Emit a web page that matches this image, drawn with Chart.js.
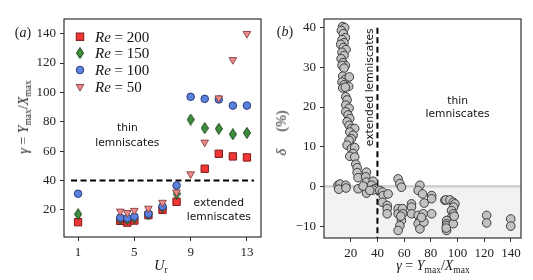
<!DOCTYPE html>
<html>
<head>
<meta charset="utf-8">
<script src="https://cdn.jsdelivr.net/npm/chart.js@4.4.0/dist/chart.umd.min.js"></script>
<style>
  html, body { margin: 0; padding: 0; background: #fff; }
  #wrap { position: relative; width: 533px; height: 280px; overflow: hidden; }
  canvas { position: absolute; top: 0; }
  .lbl { position: absolute; font-family: "Liberation Serif", serif; font-size: 14px; color: #222; white-space: nowrap; line-height: 1; }
  .lbl sub { font-size: 9.5px; line-height: 0; vertical-align: -3px; }
  .rot { transform: translate(-50%, -50%) rotate(-90deg); }
  .ctr { transform: translate(-50%, -50%); }
</style>
</head>
<body>
<div id="wrap">
  <canvas id="leftChart" width="270" height="280" style="left:0"></canvas>
  <canvas id="rightChart" width="263" height="280" style="left:270px"></canvas>
  <div class="lbl ctr" style="left:23px;top:33px">(<i>a</i>)</div>
  <div class="lbl ctr" style="left:285px;top:32px">(<i>b</i>)</div>
  <div class="lbl rot" style="left:24px;top:117px"><i>γ</i> = <i>Y</i><sub>max</sub>/<i>X</i><sub>max</sub></div>
  <div class="lbl ctr" style="left:161px;top:266px"><i>U</i><sub>r</sub></div>
  <div class="lbl ctr" style="left:433px;top:266px"><i>γ</i> = <i>Y</i><sub>max</sub>/<i>X</i><sub>max</sub></div>
  <div class="lbl rot" style="left:282px;top:133px"><i>δ</i>&emsp;&nbsp;(%)</div>
</div>
<script>
// (a) gamma against reduced velocity, one array per Reynolds number
const urValues = [1, 4, 4.5, 5, 6, 7, 8, 9, 10, 11, 12, 13];
const gammaRe200 = [11.6, 12.5, 11.3, 12.7, 16.4, 20, 25.5, null, 48, 58.2, 56.4, 55.7];
const gammaRe150 = [17, 14, 13.5, 14.5, 17, 22, 31, 81.5, 75.7, 75.2, 71.5, 72.4];
const gammaRe100 = [31, 14.7, 14.3, 15.4, 17.3, 22.3, 36.6, 97, 95.6, 95.2, 91, 91];
const gammaRe50 = [null, 19, 18, 19.5, 21, 25, 32, 44.4, 66, 96.1, 122.2, 140];
const urTicks = [1, 5, 9, 13];
const gammaTicks = [20, 40, 60, 80, 100, 120, 140];

// (b) delta against gamma
const gammaRatio = [
  14, 15.5, 13, 14.5, 16, 13.5, 15, 12.5, 14.5, 16.5, 13.5, 15, 12.8, 14.2, 16, 13.5, 15, 14, 16, 19, 13.5, 15, 18.5, 14, 16,
  16.3, 17.3, 16.3, 18.8, 16.3, 18, 19.3, 17.3, 18.8, 20.5, 23, 19.3, 21.8, 20.5, 18.8, 17.3, 20.5, 23, 21.8, 19.3, 23, 23.8, 24.8, 24.8, 25.5, 25.5,
  10.5, 12, 11, 16.3, 16.5,
  31.8, 31.3, 31.8, 30.5, 31.8, 36.8, 35.5, 38, 36.8, 29.3, 34.3,
  41.8, 43.8, 44.3, 48, 43.8, 47.3, 47.3, 47.3,
  55.5, 56.8, 58, 55.5, 55.5, 58.8, 58.8, 58, 56.8, 55.5, 57.5,
  65.5, 65.5, 65.5,
  71.8, 70.5, 73.8, 75, 80.6, 80.6, 70.5, 74.3, 71.8, 70.5, 71.8, 74.8, 80.6, 73,
  90.5, 91.3, 94.3, 96.8, 98, 97, 95.5, 96.8, 95.5, 94.3, 91.8, 91.8, 91.8, 91.8, 96.8, 97.5, 91.5,
  121.8, 121.8, 139.8, 139.8
];
const deltaPct = [
  40.3, 40, 39.3, 38.5, 37.5, 37, 36.2, 35.8, 35, 34.5, 33.8, 33, 32.2, 31.2, 30.5, 30.5, 29.8, 27.8, 27, 27.6, 26.3, 25.6, 25.2, 24.8, 25,
  22.6, 21.8, 20.5, 19.7, 18.8, 18, 17.1, 16.3, 15.4, 14.6, 14.6, 13.7, 12.9, 12, 11.6, 10.4, 9.5, 9.8, 8.3, 7.6, 7.4, 5.6, 4.7, 3.5, 2.2, -0.6,
  0.3, 0.6, -0.7, 0.3, -0.4,
  3.6, 2.4, 1.1, -0.2, -1.7, 1.3, 0.3, -0.6, -0.9, 0.1, -1,
  -1, -1.4, -2.3, -1.9, -4, -4.8, -5.6, -6.9,
  1.9, 0.7, -0.2, -5.6, -6.9, -5.6, -6.9, -8.6, -9.9, -11.1, -7.5,
  -4.4, -5.2, -6.9,
  0.3, -1, -1.9, -4.2, -2.3, -3.1, -7.3, -6.9, -8.6, -9.4, -10.7, -9, -6.9, -7.8,
  -3.5, -3.4, -3.4, -4, -4.4, -5.2, -6.1, -6.9, -7.8, -8.6, -8.6, -9.4, -9.9, -11.1, -9.4, -7.5, -10.5,
  -7.3, -9.2, -8.2, -10
];
const deltaTicks = [-10, 0, 10, 20, 30, 40];
const ratioTicks = [20, 40, 60, 80, 100, 120, 140];

const serif = "'Liberation Serif', serif";
const sans = "'DejaVu Sans', sans-serif";
const ink = "#333";

function thinDiamond(w, h, fill, edge) {
  const c = document.createElement("canvas");
  c.width = w; c.height = h;
  const g = c.getContext("2d");
  g.beginPath();
  g.moveTo(w / 2, 0.5); g.lineTo(w - 0.5, h / 2); g.lineTo(w / 2, h - 0.5); g.lineTo(0.5, h / 2);
  g.closePath();
  g.fillStyle = fill; g.fill();
  g.strokeStyle = edge; g.lineWidth = 1; g.stroke();
  return c;
}
const diamondImg = thinDiamond(8, 12, "#3c8d3c", "#1d461d");

function pts(ys) {
  return urValues.map((x, i) => ({ x: x, y: ys[i] })).filter(p => p.y !== null);
}

function axis(min, max, tickList, fit) {
  return {
    type: "linear", min: min, max: max,
    afterBuildTicks: s => { s.ticks = tickList.map(v => ({ value: v })); },
    afterFit: fit,
    grid: { drawOnChartArea: false, drawTicks: true, tickLength: 4, color: ink },
    border: { display: false },
    ticks: {
      padding: 4, color: "#222", font: { family: serif, size: 13 },
      callback: v => String(v).replace("-", "\u2212")
    }
  };
}

function frame(chart) {
  const a = chart.chartArea, ctx = chart.ctx;
  ctx.save();
  ctx.strokeStyle = ink; ctx.lineWidth = 1.2;
  ctx.strokeRect(a.left, a.top, a.right - a.left, a.bottom - a.top);
  ctx.restore();
}

function label(ctx, text, x, y) {
  ctx.fillText(text, x, y);
}

// left panel
new Chart(document.getElementById("leftChart"), {
  type: "scatter",
  data: {
    datasets: [
      { label: "Re = 200", data: pts(gammaRe200), order: 4, pointStyle: "rect", pointRadius: 5.2,
        backgroundColor: "#f23535", borderColor: "#7d1b1b", borderWidth: 1 },
      { label: "Re = 150", data: pts(gammaRe150), order: 3, pointStyle: diamondImg, pointRadius: 5 },
      { label: "Re = 100", data: pts(gammaRe100), order: 2, pointStyle: "circle", pointRadius: 3.8,
        backgroundColor: "#5a80e0", borderColor: "#2a3d78", borderWidth: 1 },
      { label: "Re = 50", data: pts(gammaRe50), order: 1, pointStyle: "triangle", pointRotation: 180, pointRadius: 4.4,
        backgroundColor: "#f08a8a", borderColor: "#8c4a4a", borderWidth: 1 }
    ]
  },
  options: {
    responsive: false, animation: false,
    layout: { padding: { top: 19, right: 9, left: 0, bottom: 0 } },
    plugins: { legend: { display: false }, tooltip: { enabled: false } },
    scales: {
      x: axis(0, 14, urTicks, s => { s.height = 43; }),
      y: axis(1.5, 150, gammaTicks, s => { s.width = 64; })
    }
  },
  plugins: [{
    id: "leftDecor",
    beforeDatasetsDraw(chart) {
      const ctx = chart.ctx, xs = chart.scales.x, ys = chart.scales.y;
      const y40 = ys.getPixelForValue(40);
      ctx.save();
      ctx.strokeStyle = "#000"; ctx.lineWidth = 2; ctx.setLineDash([6, 3.5]);
      ctx.beginPath();
      ctx.moveTo(xs.getPixelForValue(0.5), y40);
      ctx.lineTo(xs.getPixelForValue(13.5), y40);
      ctx.stroke();
      ctx.restore();
    },
    afterDraw(chart) {
      const ctx = chart.ctx, xs = chart.scales.x, ys = chart.scales.y;
      frame(chart);
      ctx.save();
      ctx.fillStyle = "#111"; ctx.textAlign = "center"; ctx.textBaseline = "alphabetic";
      ctx.font = "10.7px " + sans;
      label(ctx, "thin", xs.getPixelForValue(4.5), ys.getPixelForValue(73.4));
      label(ctx, "lemniscates", xs.getPixelForValue(4.5), ys.getPixelForValue(63.4));
      label(ctx, "extended", xs.getPixelForValue(11), ys.getPixelForValue(22.9));
      label(ctx, "lemniscates", xs.getPixelForValue(11), ys.getPixelForValue(13.2));
      // legend
      const rows = [36.7, 53, 70, 86.7], mx = 80, tx = 95;
      const ds = chart.data.datasets;
      ctx.textAlign = "left"; ctx.textBaseline = "middle";
      rows.forEach((ry, i) => {
        const d = ds[i];
        ctx.save();
        ctx.fillStyle = d.backgroundColor || "#000"; ctx.strokeStyle = d.borderColor || "#000"; ctx.lineWidth = 1;
        if (i === 0) { ctx.fillRect(mx - 3.7, ry - 3.7, 7.4, 7.4); ctx.strokeRect(mx - 3.7, ry - 3.7, 7.4, 7.4); }
        if (i === 1) { ctx.drawImage(diamondImg, mx - 4, ry - 6); }
        if (i === 2) { ctx.beginPath(); ctx.arc(mx, ry, 3.8, 0, Math.PI * 2); ctx.fill(); ctx.stroke(); }
        if (i === 3) {
          ctx.beginPath(); ctx.moveTo(mx - 3.8, ry - 2.2); ctx.lineTo(mx + 3.8, ry - 2.2); ctx.lineTo(mx, ry + 4.4);
          ctx.closePath(); ctx.fill(); ctx.stroke();
        }
        ctx.restore();
        const parts = d.label.split(" = ");
        ctx.fillStyle = "#111";
        ctx.font = "italic 15px " + serif;
        ctx.fillText(parts[0], tx, ry + 1);
        const w = ctx.measureText(parts[0]).width;
        ctx.font = "15px " + serif;
        ctx.fillText(" = " + parts[1], tx + w, ry + 1);
      });
      ctx.restore();
    }
  }]
});

// right panel
new Chart(document.getElementById("rightChart"), {
  type: "scatter",
  data: {
    datasets: [{
      label: "delta",
      data: gammaRatio.map((g, i) => ({ x: g, y: deltaPct[i] })),
      pointStyle: "circle", pointRadius: 4.3,
      backgroundColor: "#c2c2c2", borderColor: "#3c3c3c", borderWidth: 1
    }]
  },
  options: {
    responsive: false, animation: false,
    layout: { padding: { top: 19, right: 12, left: 0, bottom: 0 } },
    plugins: { legend: { display: false }, tooltip: { enabled: false } },
    scales: {
      x: axis(0, 147.5, ratioTicks, s => { s.height = 42; }),
      y: axis(-13, 42.2, deltaTicks, s => { s.width = 54; })
    }
  },
  plugins: [{
    id: "rightDecor",
    beforeDatasetsDraw(chart) {
      const ctx = chart.ctx, a = chart.chartArea, xs = chart.scales.x, ys = chart.scales.y;
      const y0 = ys.getPixelForValue(0), x40 = xs.getPixelForValue(40);
      ctx.save();
      ctx.fillStyle = "#f2f2f2";
      ctx.fillRect(a.left, y0, a.right - a.left, a.bottom - y0);
      ctx.strokeStyle = "#d2d2d2"; ctx.lineWidth = 2.6;
      ctx.beginPath(); ctx.moveTo(a.left, y0); ctx.lineTo(a.right, y0); ctx.stroke();
      ctx.strokeStyle = "#000"; ctx.lineWidth = 2; ctx.setLineDash([6, 3.5]);
      ctx.beginPath(); ctx.moveTo(x40, ys.getPixelForValue(40)); ctx.lineTo(x40, a.bottom); ctx.stroke();
      ctx.restore();
    },
    afterDraw(chart) {
      const ctx = chart.ctx, xs = chart.scales.x, ys = chart.scales.y;
      frame(chart);
      ctx.save();
      ctx.fillStyle = "#111"; ctx.textAlign = "center"; ctx.textBaseline = "alphabetic";
      ctx.font = "10.7px " + sans;
      label(ctx, "thin", xs.getPixelForValue(100), ys.getPixelForValue(20.9));
      label(ctx, "lemniscates", xs.getPixelForValue(100), ys.getPixelForValue(17.4));
      ctx.translate(xs.getPixelForValue(36.8), ys.getPixelForValue(25));
      ctx.rotate(-Math.PI / 2);
      label(ctx, "extended lemniscates", 0, 0);
      ctx.restore();
    }
  }]
});
</script>
</body>
</html>
